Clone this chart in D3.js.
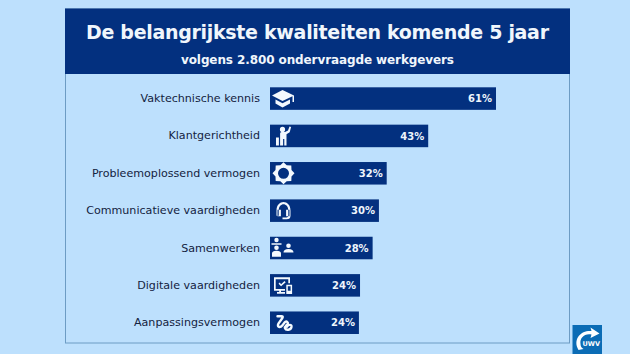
<!DOCTYPE html>
<html>
<head>
<meta charset="utf-8">
<script src="https://cdn.jsdelivr.net/npm/d3@7"></script>
<style>
  html, body { margin: 0; padding: 0; background: #bde0fd; }
  svg { display: block; font-family: "DejaVu Sans", sans-serif; }
</style>
</head>
<body>
<svg id="chart" width="630" height="354"></svg>
<script>
const categories = [
    "Vaktechnische kennis",
    "Klantgerichtheid",
    "Probleemoplossend vermogen",
    "Communicatieve vaardigheden",
    "Samenwerken",
    "Digitale vaardigheden",
    "Aanpassingsvermogen"
];
// bar lengths, they differ a little from the printed labels
const barValues = [61, 42.7, 31.5, 29.4, 27.7, 24.3, 24];
const barLabels = ["61%", "43%", "32%", "30%", "28%", "24%", "24%"];
const titleText = "De belangrijkste kwaliteiten komende 5 jaar";
const subtitleText = "volgens 2.800 ondervraagde werkgevers";

const navy = "#03307f";
const svg = d3.select("svg#chart");
const bounds = { minX: 270, minY: 87.3, maxY: 334 };

// panel and header
svg.append("rect").attr("x", 65.5).attr("y", 9).attr("width", 504).attr("height", 334)
    .attr("fill", "#bde0fd").attr("stroke", "#6d9cc4").attr("stroke-width", 1);
svg.append("rect").attr("x", 65).attr("y", 8.5).attr("width", 505).attr("height", 65.5)
    .attr("fill", navy);
svg.append("text").attr("x", 317.5).attr("y", 39).attr("text-anchor", "middle")
    .attr("font-size", 19).attr("font-weight", "bold").attr("fill", "#f0f6fc")
    .attr("textLength", 463).text(titleText);
svg.append("text").attr("x", 317.5).attr("y", 64).attr("text-anchor", "middle")
    .attr("font-size", 12).attr("font-weight", "bold").attr("fill", "#f0f6fc")
    .attr("textLength", 273).text(subtitleText);

const scaleX = d3.scaleLinear().domain([0, 61]).range([bounds.minX, 496]);
const scaleY = d3.scaleBand().domain(categories).range([bounds.minY, bounds.maxY])
    .paddingInner(0.397).paddingOuter(0);

const yAxis = d3.axisLeft(scaleY).tickSize(0).tickPadding(10);
const axisG = svg.append("g").attr("transform", `translate(${bounds.minX} 0)`).call(yAxis);
axisG.select(".domain").remove();
axisG.selectAll("text").attr("font-size", 11.1).attr("fill", "#14233f")
    .attr("font-family", "'DejaVu Sans', sans-serif");

svg.selectAll("rect.bar").data(categories).join("rect")
    .attr("class", "bar")
    .attr("x", bounds.minX)
    .attr("y", d => scaleY(d))
    .attr("width", (d, i) => scaleX(barValues[i]) - bounds.minX)
    .attr("height", scaleY.bandwidth())
    .attr("fill", navy);

svg.selectAll("text.pct").data(categories).join("text")
    .attr("class", "pct")
    .attr("x", (d, i) => scaleX(barValues[i]) - 4)
    .attr("y", d => scaleY(d) + scaleY.bandwidth() / 2 + 3.6)
    .attr("text-anchor", "end")
    .attr("font-size", 10).attr("font-weight", "bold").attr("fill", "#eef5fc")
    .text((d, i) => barLabels[i]);

// full circle as a path piece
function dot(cx, cy, r) {
    return `M${cx - r},${cy} a${r},${r} 0 1 0 ${2 * r},0 a${r},${r} 0 1 0 ${-2 * r},0Z `;
}

// icons, drawn around (0,0) and placed on the bars
const iconPaths = [
    "M-1,-8.5 L10.5,-3 L10.5,3.5 L9,3.5 L9,-2.2 L-1,2.5 L-11.5,-3Z M-8,1 L-1,4.6 L6.5,1 L6.5,5 L-1,9 L-8,5Z",
    dot(-1, -6.5, 2.6) + "M1.5,-4 L4.5,-5.5 L6,-9.5 L7.6,-9 L6.2,-3.6 L3,-1.6 L3,9.5 L0.8,9.5 L0.8,3 L-0.4,3 L-0.4,9.5 L-3.4,9.5 L-3.4,-2.5 Q-3.4,-4 -2,-4Z M-7.5,1.5 L-4.6,1.5 L-4.6,9.5 L-7.5,9.5Z",
    "M0,-11 L3.2,-8 L7.8,-7.8 L8,-3.2 L11,0 L8,3.2 L7.8,7.8 L3.2,8 L0,11 L-3.2,8 L-7.8,7.8 L-8,3.2 L-11,0 L-8,-3.2 L-7.8,-7.8 L-3.2,-8Z " + dot(0, 0, 5.5),
    "M-7,0 C-7,-11.5 7,-11.5 7,0 L7,5 Q7,8.5 3,8.5 L-1,8.5 L-1,6.8 L3,6.8 Q4.8,6.8 4.8,5 L4.8,0 C4.8,-8.5 -4.8,-8.5 -4.8,0 L-4.8,5 L-7,5Z M-6,-1 L-2.6,-1 L-2.6,5.5 L-6,5.5Z M2.6,-1 L6,-1 L6,5.5 L2.6,5.5Z",
    dot(-7, -8, 2.2) + "M-12,-4.8 L-2,-4.8 L-2,-3.2 L-12,-3.2Z " + dot(-7, -0.2, 2.3) + "M-11.5,5.5 Q-11.5,2.8 -7,2.8 Q-2.5,2.8 -2.5,5.5 L-2.5,8.8 L-11.5,8.8Z " + dot(5, -2.2, 2.3) + "M0,4.6 Q0,1 5,1 Q10,1 10,4.6Z",
    "M-9.5,-8 L6.5,-8 L6.5,-2 L4.8,-2 L4.8,-6.2 L-7.8,-6.2 L-7.8,3.6 L1.5,3.6 L1.5,5.4 L-2.5,5.4 L-2.5,6.6 L1.5,6.6 L1.5,8.4 L-6.5,8.4 L-6.5,6.6 L-4.3,6.6 L-4.3,5.4 L-9.5,5.4Z M-5,-1.5 L-3.7,-2.9 L-2.4,-1.2 L1,-4.4 L2.2,-3.2 L-2.4,1Z M2.8,-0.5 L8.6,-0.5 L8.6,8.6 L2.8,8.6Z M4.3,1 L4.3,5.5 L7.1,5.5 L7.1,1Z",
    null
];
const squiggle = "M-6,-6.5 L-2,-6.5 C2,-6.5 -5,-1 -5.5,2 C-6,5 -3,5 -1,2.5 C1,0 2,-2.5 4,-0.5 C6,1.5 0.5,3 1.5,5.5 C2.5,8 7.5,7.5 8,4 C8.3,1.5 5,1.5 3.5,4";

svg.selectAll("path.icon").data(categories).join("path")
    .attr("class", "icon")
    .attr("transform", d => `translate(${bounds.minX + 13.5} ${scaleY(d) + scaleY.bandwidth() / 2})`)
    .attr("d", (d, i) => iconPaths[i] || squiggle)
    .attr("fill", (d, i) => iconPaths[i] ? "#f4f9fe" : "none")
    .attr("fill-rule", "evenodd")
    .attr("stroke", (d, i) => iconPaths[i] ? "none" : "#f4f9fe")
    .attr("stroke-width", 2.4)
    .attr("stroke-linecap", "round");

// logo bottom right
const logo = svg.append("g").attr("transform", "translate(572.5 325)");
logo.append("rect").attr("width", 29.5).attr("height", 29).attr("fill", "#0b6cb5");
logo.append("path").attr("fill", "#ffffff")
    .attr("d", "M5,23 C1,13 9,5 19,6 L18,2.5 L27,8.5 L18,13 L19,9.5 C12,8 7,13 8,19 C8,21 9,23 11,24 L6,25Z");
logo.append("text").attr("x", 10).attr("y", 21).attr("font-size", 6.5).attr("font-weight", "bold")
    .attr("fill", "#ffffff").text("UWV");
</script>
</body>
</html>
